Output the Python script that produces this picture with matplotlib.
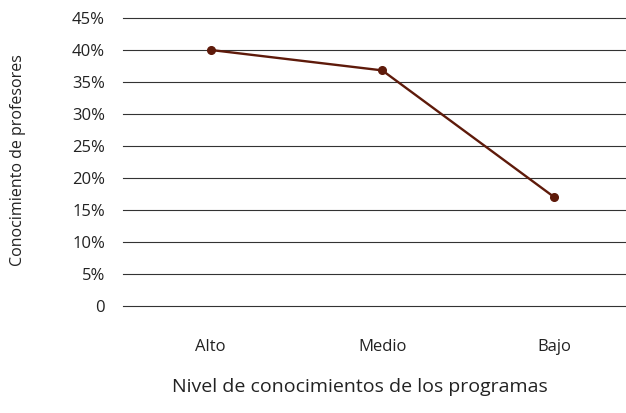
import matplotlib.pyplot as plt
from matplotlib.ticker import FuncFormatter

plt.rcParams['font.family'] = ['Open Sans', 'DejaVu Sans']

# Datos
niveles = ['Alto', 'Medio', 'Bajo']
conocimiento = [40.0, 36.8, 17.0]
y_ticks = list(range(0, 50, 5))

fig = plt.figure(figsize=(6.26, 4.13), dpi=100)
ax = fig.add_axes([123 / 626, 1 - 305.5 / 413, 1 - 123 / 626, 287.5 / 413])

x = list(range(len(niveles)))
ax.plot(x, conocimiento, color='#5e1a0a', linewidth=1.7, marker='o',
        markersize=5.5, zorder=3)

ax.set_ylim(0, 45)
ax.set_xlim(-0.51, 2.42)
ax.set_yticks(y_ticks)
ax.yaxis.set_major_formatter(FuncFormatter(lambda v, p: '0' if v == 0 else f'{v:.0f}%'))
ax.set_xticks(x)
ax.set_xticklabels(niveles)

ax.grid(axis='y', color='#333333', linewidth=0.8)
for gl in ax.get_ygridlines():
    gl.set_clip_on(False)
ax.set_axisbelow(True)
for s in ax.spines.values():
    s.set_visible(False)
ax.tick_params(axis='y', length=0, pad=13, labelsize=12, labelcolor='#222222')
ax.tick_params(axis='x', length=0, pad=24, labelsize=12, labelcolor='#222222')

fig.text(18 / 626, 1 - 160 / 413, 'Conocimiento de profesores', rotation=90,
         ha='center', va='center', fontsize=11.5, color='#222222')
fig.text(360 / 626, 1 - 387 / 413, 'Nivel de conocimientos de los programas',
         ha='center', va='center', fontsize=14, color='#222222')

fig.savefig('out.png', dpi=100)
